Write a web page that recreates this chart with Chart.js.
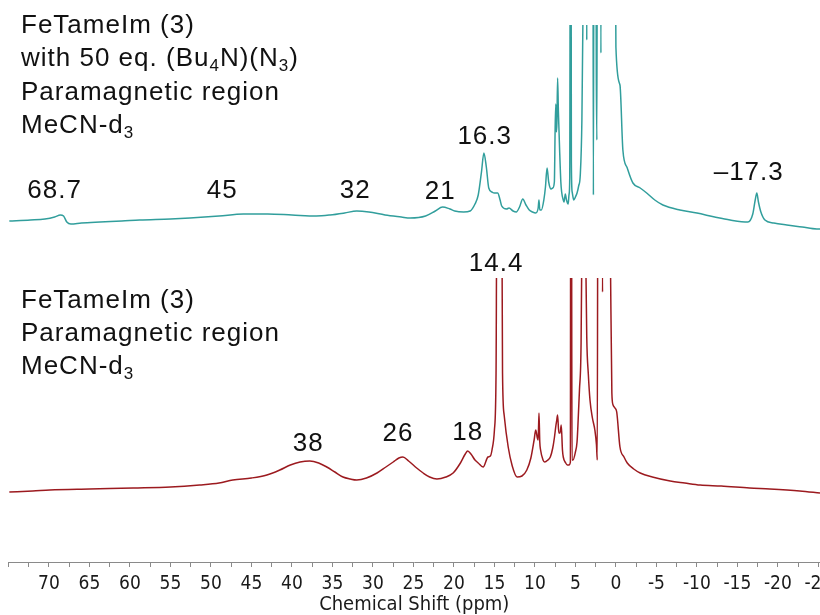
<!DOCTYPE html>
<html>
<head>
<meta charset="utf-8">
<script src="https://cdn.jsdelivr.net/npm/chart.js@4.4.1/dist/chart.umd.min.js"></script>
<style>
  html, body { margin: 0; padding: 0; background: #fff; }
  canvas { display: block; }
</style>
</head>
<body>
<canvas id="nmr" width="820" height="615"></canvas>
<script>
const TEAL = "#319e9c";
const WINE = "#9c1a1f";
const TEXT_FONT = '"Liberation Sans", Arial, sans-serif';
const AXIS_FONT = '"DejaVu Sans Condensed", "DejaVu Sans", sans-serif';

// upper spectrum: FeTameIm + 50 eq. azide (shift in ppm, signal in arbitrary units)
const topShift = [
  74.9, 72.3, 70.5, 69.3, 68.6, 68.2, 67.8, 67.3, 66, 63.7,
  61, 58.8, 55, 52.6, 49, 46, 43, 40, 37, 35.3,
  33.5, 32, 30.5, 28.5, 26.5, 25.4, 23.5, 22.3, 21.4, 20.5,
  19.9, 18.8, 18, 17.4, 17, 16.6, 16.3, 16.0, 15.7, 15.3,
  15.0, 14.6, 14.3, 14.1, 13.5, 13.2, 12.7, 12.3, 11.9, 11.5,
  11.1, 10.7, 10.3, 9.9, 9.6, 9.5, 9.4, 9.2, 8.9, 8.7,
  8.5, 8.3, 8.0, 7.8, 7.6, 7.5, 7.42, 7.35, 7.28, 7.2,
  7.1, 6.95, 6.8, 6.7, 6.5, 6.4, 6.25, 6.1, 5.9, 5.78,
  5.7, 5.62, 5.55, 5.5, 5.4, 5.2, 5.0, 4.8, 4.6, 4.4,
  4.2, 4.05, 3.95, 3.7, 3.65, 3.6, 3.55, 3.0, 2.85, 2.78,
  2.7, 2.5, 2.42, 2.35, 2.28, 1.95, 1.85, 1.78, 1.0, 0.15,
  0.0, -0.5, -0.86, -1.4, -2.1, -3.0, -3.8, -4.8, -5.8, -7.9,
  -10, -12.2, -14.1, -16.3, -16.9, -17.2, -17.4, -17.6, -17.9, -18.4,
  -19.5, -21.1, -23, -24.8, -25.2
];
const topSignal = [
  1, 2, 3, 5, 7, 6, 0, -2, -1, 0,
  1, 2, 3, 4, 6, 8, 8, 7, 6, 7,
  9, 11, 10, 7, 5, 4, 6, 11, 15, 13,
  11, 10, 11, 18, 27, 50, 69, 55, 34, 30,
  29, 29, 22, 16, 13, 14, 11, 10, 15, 23,
  17, 12, 10, 9, 14, 22, 12, 12, 22, 35,
  54, 40, 33, 34, 40, 95, 118, 90, 100, 144,
  110, 72, 40, 30, 22, 20, 28, 22, 18, 28,
  45, 400, 400, 60, 30, 22, 25, 29, 36, 47,
  102, 220, 400, 400, 400, 182, 400, 400, 400, 27,
  400, 400, 150, 82, 400, 400, 169, 400, 400, 400,
  175, 137, 72, 54, 39, 34, 29, 22, 17, 12,
  9, 5, 2, 0, 8, 22, 29, 20, 10, 2,
  -1, -3, -5, -7, -7
];

// lower spectrum: FeTameIm alone
const bottomShift = [
  74.9, 72, 69.9, 65, 59.6, 55, 51.4, 49, 47.3, 45,
  43.1, 41.5, 40.2, 39, 37.8, 36.7, 35.7, 34.7, 33.7, 32.8,
  32, 30.8, 29.5, 28.4, 27.5, 26.8, 26.3, 25.6, 24.6, 23.8,
  23, 22.1, 21, 20.1, 19.2, 18.6, 18.3, 17.9, 17.4, 17,
  16.4, 15.8, 15.5, 15.3, 15.0, 14.8, 14.65, 14.15, 14.0, 13.8,
  13.3, 12.8, 12.2, 11.6, 11.0, 10.5, 10.1, 9.9, 9.7, 9.6,
  9.5, 9.4, 9.3, 9.0, 8.8, 8.4, 8.1, 7.8, 7.6, 7.4,
  7.3, 7.2, 7.05, 6.9, 6.75, 6.6, 6.5, 6.2, 6.0, 5.8,
  5.62, 5.58, 5.5, 5.42, 5.3, 5.0, 4.8, 4.7, 4.5, 4.3,
  4.15, 4.05, 3.85, 3.75, 3.6, 3.4, 3.2, 2.9, 2.6, 2.4,
  2.3, 2.22, 2.0, 1.8, 1.65, 1.55, 1.0, 0.7, 0.5, 0.35,
  0.12, -0.1, -0.5, -1.0, -1.4, -2.2, -3.0, -4.5, -6.7, -8.5,
  -10.4, -13, -16.5, -19, -22.7, -25.2
];
const bottomSignal = [
  -2, -1, 0, 1, 2, 3, 5, 7, 10, 12,
  15, 20, 25, 28, 29, 27, 23, 18, 13, 11,
  10, 12, 17, 23, 28, 32, 33, 29, 22, 17,
  13, 11, 13, 17, 27, 36, 39, 36, 30, 27,
  23, 33, 34, 40, 60, 117, 400, 400, 117, 75,
  43, 24, 13, 14, 20, 32, 50, 60, 52, 50,
  77, 48, 40, 30, 28, 30, 33, 42, 52, 65,
  70, 75, 57, 57, 65, 40, 33, 27, 25, 25,
  28, 400, 400, 30, 30, 38, 48, 63, 100, 147,
  300, 400, 400, 250, 153, 115, 90, 72, 60, 45,
  30, 400, 400, 400, 198, 400, 400, 250, 97, 85,
  82, 78, 43, 33, 27, 21, 17, 13, 9, 7,
  5, 4, 2, 1, -1, -3
];

// peak annotations
const topPeakText = ["68.7", "45", "32", "21", "16.3", "\u201317.3"];
const topPeakShift = [69.3, 48.6, 32.2, 21.7, 16.2, -16.4];
const topPeakLevel = [24, 24, 24, 23, 78, 42];

const bottomPeakText = ["38", "26", "18", "14.4"];
const bottomPeakShift = [38.0, 26.9, 18.3, 14.8];
const bottomPeakLevel = [39, 49, 50, 219];

// caption lines, "~" marks a subscript
const topCaption = ["FeTameIm (3)", "with 50 eq. (Bu~4~N)(N~3~)", "Paramagnetic region", "MeCN-d~3~"];
const bottomCaption = ["FeTameIm (3)", "Paramagnetic region", "MeCN-d~3~"];

function toPoints(xs, ys) {
  return xs.map((x, i) => ({ x, y: ys[i] }));
}

function drawRich(ctx, line, x, y) {
  line.split("~").forEach((part, i) => {
    const sub = i % 2 === 1;
    ctx.font = `${sub ? 17 : 26}px ${TEXT_FONT}`;
    ctx.fillText(part, x, sub ? y + 5 : y);
    x += ctx.measureText(part).width;
  });
}

const annotationsPlugin = {
  id: "annotations",
  afterDraw(chart) {
    const { ctx, scales } = chart;
    ctx.save();
    ctx.fillStyle = "#111";
    ctx.letterSpacing = "1px";
    ctx.textBaseline = "alphabetic";

    ctx.textAlign = "left";
    topCaption.forEach((line, i) => drawRich(ctx, line, 21, 33 + i * 33.3));
    bottomCaption.forEach((line, i) => drawRich(ctx, line, 21, 308 + i * 33));

    ctx.textAlign = "center";
    ctx.font = `26px ${TEXT_FONT}`;
    topPeakText.forEach((t, i) => {
      ctx.fillText(t, scales.x.getPixelForValue(topPeakShift[i]), scales.yTop.getPixelForValue(topPeakLevel[i]));
    });
    bottomPeakText.forEach((t, i) => {
      ctx.fillText(t, scales.x.getPixelForValue(bottomPeakShift[i]), scales.yBot.getPixelForValue(bottomPeakLevel[i]));
    });
    ctx.restore();
  }
};

new Chart(document.getElementById("nmr"), {
  type: "line",
  data: {
    datasets: [
      {
        data: toPoints(topShift, topSignal),
        yAxisID: "yTop",
        borderColor: TEAL,
        borderWidth: 1.5,
        pointRadius: 0,
        cubicInterpolationMode: "monotone",
        clip: { left: 0, top: 0, right: 0, bottom: 0 }
      },
      {
        data: toPoints(bottomShift, bottomSignal),
        yAxisID: "yBot",
        borderColor: WINE,
        borderWidth: 1.5,
        pointRadius: 0,
        cubicInterpolationMode: "monotone",
        clip: { left: 0, top: -253, right: 0, bottom: 0 }
      }
    ]
  },
  options: {
    responsive: false,
    animation: false,
    events: [],
    layout: { padding: { left: 8.5, right: 0, top: 25, bottom: 0 } },
    plugins: { legend: { display: false }, tooltip: { enabled: false } },
    scales: {
      x: {
        type: "linear",
        reverse: true,
        min: -25.2,
        max: 75,
        border: { display: true, color: "#8a8a8a", width: 1 },
        grid: { drawOnChartArea: false, drawTicks: true, tickLength: 5, color: "#8a8a8a" },
        ticks: {
          stepSize: 2.5,
          includeBounds: false,
          autoSkip: false,
          maxRotation: 0,
          padding: 6,
          color: "#1a1a1a",
          font: { family: AXIS_FONT, size: 19 },
          callback: (v) => (Math.abs(v % 5) < 1e-6 && v !== 75 ? String(v) : "")
        },
        title: {
          display: true,
          text: "Chemical Shift (ppm)",
          color: "#1a1a1a",
          font: { family: AXIS_FONT, size: 20, lineHeight: 1.05 },
          padding: { top: 0, bottom: 0 }
        },
        afterFit(scale) {
          scale.paddingLeft = 0;
          scale.paddingRight = 0;
          scale.height = 53;
        }
      },
      yBot: { display: false, min: -72, max: 465 },
      yTop: { display: false, min: -340, max: 197 }
    }
  },
  plugins: [annotationsPlugin]
});
</script>
</body>
</html>
